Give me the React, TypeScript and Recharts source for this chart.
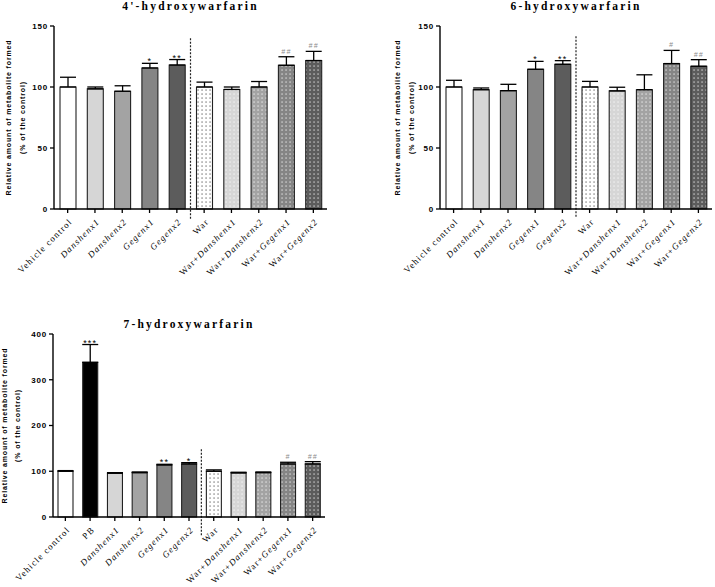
import React from "react";
import { BarChart, Bar, XAxis, YAxis, Cell, ErrorBar, LabelList, ReferenceLine } from "recharts";

// groups on the x axis
const groups = [
  "Vehicle control", "Danshenx1", "Danshenx2", "Gegenx1", "Gegenx2",
  "War", "War+Danshenx1", "War+Danshenx2", "War+Gegenx1", "War+Gegenx2",
];
const groups7 = [
  "Vehicle control", "PB", "Danshenx1", "Danshenx2", "Gegenx1", "Gegenx2",
  "War", "War+Danshenx1", "War+Danshenx2", "War+Gegenx1", "War+Gegenx2",
];

// 4'-hydroxywarfarin (% of control, upper SD)
const mean4 = [100, 98.5, 96.5, 115.6, 118, 100, 98, 100, 117.8, 121.7];
const sd4 = [8, 1.5, 4.5, 3.8, 4.5, 4, 2, 4.5, 7, 7.5];
const sig4 = ["", "", "", "*", "**", "", "", "", "##", "##"];

// 6-hydroxywarfarin
const mean6 = [100, 97.8, 97, 114.5, 118.6, 100, 96.8, 97.8, 119.2, 117];
const sd6 = [5.5, 1.4, 5.2, 6.5, 3, 4.6, 3, 12.2, 10.8, 5.4];
const sig6 = ["", "", "", "*", "**", "", "", "", "#", "##"];

// 7-hydroxywarfarin
const mean7 = [100, 338, 95.7, 97, 113.8, 116, 100, 96.4, 97, 116, 116];
const sd7 = [1.4, 39, 1.3, 1.5, 1.4, 2.8, 3, 1.4, 1.5, 3.6, 5];
const sig7 = ["", "***", "", "", "**", "*", "", "", "", "#", "##"];

const yTicks150 = [0, 50, 100, 150];
const yTicks400 = [0, 100, 200, 300, 400];

const fills: Record<string, string> = {
  "Vehicle control": "#ffffff",
  PB: "#000000",
  Danshenx1: "#d6d6d6",
  Danshenx2: "#a3a3a3",
  Gegenx1: "#858585",
  Gegenx2: "#5c5c5c",
  War: "url(#dotWar)",
  "War+Danshenx1": "url(#dotD1)",
  "War+Danshenx2": "url(#dotD2)",
  "War+Gegenx1": "url(#dotG1)",
  "War+Gegenx2": "url(#dotG2)",
};

const sans = "'Liberation Sans', Arial, sans-serif";
const serif = "'Liberation Serif', 'Times New Roman', serif";

const Patterns = () => {
  const defs = [
    ["dotWar", "#ffffff", "#444444"],
    ["dotD1", "#d6d6d6", "#ffffff"],
    ["dotD2", "#a3a3a3", "#ffffff"],
    ["dotG1", "#858585", "#ffffff"],
    ["dotG2", "#5c5c5c", "#ffffff"],
  ];
  return (
    <svg width={0} height={0} style={{ position: "absolute" }}>
      <defs>
        {defs.map(([id, bg, dot]) => (
          <pattern key={id} id={id} patternUnits="userSpaceOnUse" width={4} height={4}>
            <rect width={4} height={4} fill={bg} />
            <rect x={1.5} y={1.5} width={1.1} height={1.1} fill={dot} />
          </pattern>
        ))}
      </defs>
    </svg>
  );
};

const XTick = (props: any) => {
  const { x, y, payload } = props;
  const parts = String(payload.value).split(/(Danshenx\d|Gegenx\d)/).filter(Boolean);
  return (
    <g transform={`translate(${x + 3},${y + 5})`}>
      <text transform="rotate(-45)" textAnchor="end" dy="0.35em" fontFamily={serif} fontSize={9} letterSpacing={1.2} fill="#000">
        {parts.map((p: string, i: number) => (
          <tspan key={i} fontStyle={/x\d$/.test(p) ? "italic" : "normal"}>{p}</tspan>
        ))}
      </text>
    </g>
  );
};

const YTitle = (props: any) => {
  const { viewBox, offsets } = props;
  const right = viewBox.x + viewBox.width;
  const cy = viewBox.y + viewBox.height / 2;
  const lines = ["Relative amount of metabolite formed", "(% of the control)"];
  return (
    <g>
      {lines.map((t, i) => (
        <text key={i} x={right + offsets[i]} y={cy} transform={`rotate(-90, ${right + offsets[i]}, ${cy})`}
          textAnchor="middle" dominantBaseline="central" fontFamily={sans} fontWeight="bold" fontSize={7} letterSpacing={0.85} fill="#000">
          {t}
        </text>
      ))}
    </g>
  );
};

type PanelProps = {
  title: string; cats: string[]; mean: number[]; sd: number[]; sig: string[];
  domain: number[]; ticks: number[]; left: number; top: number; width: number; height: number;
  marginTop: number; marginRight: number; yAxisW: number; xAxisH: number; barSize: number;
  dash: number[]; offsets: number[]; titleTop: number;
};

const Panel = (p: PanelProps) => {
  const data = p.cats.map((c, i) => ({ name: c, mean: p.mean[i], err: [0, p.sd[i]], sig: p.sig[i] }));
  const plotLeft = p.left + p.yAxisW;
  const plotW = p.width - p.yAxisW - p.marginRight;

  const SigLabel = (lp: any) => {
    const { x, y, width, height, index } = lp;
    const d = data[index];
    if (!d || !d.sig) return null;
    const errTop = y - (d.err[1] / d.mean) * height;
    const hash = d.sig.startsWith("#");
    return (
      <text x={x + width / 2} y={hash ? errTop - 3 : errTop + 1} textAnchor="middle" fontFamily={sans}
        fontSize={hash ? 7 : 9} letterSpacing={1.2} fill={hash ? "#8c8c8c" : "#000"} fontStyle={hash ? "italic" : "normal"}>
        {d.sig}
      </text>
    );
  };

  return (
    <>
      <div style={{ position: "absolute", left: plotLeft, top: p.titleTop, width: plotW, textAlign: "center",
        fontFamily: serif, fontWeight: "bold", fontSize: 11.5, lineHeight: "12px", letterSpacing: 2.2 }}>
        {p.title}
      </div>
      <div style={{ position: "absolute", left: p.left, top: p.top }}>
        <BarChart width={p.width} height={p.height} data={data}
          margin={{ top: p.marginTop, right: p.marginRight, bottom: 0, left: 0 }}>
          <XAxis dataKey="name" interval={0} height={p.xAxisH} tick={<XTick />} tickSize={4}
            axisLine={{ stroke: "#000", strokeWidth: 1.4 }} tickLine={{ stroke: "#000", strokeWidth: 1.3 }} />
          <YAxis domain={p.domain} ticks={p.ticks} width={p.yAxisW} tickSize={4} tickMargin={2}
            axisLine={{ stroke: "#000", strokeWidth: 1.4 }} tickLine={{ stroke: "#000", strokeWidth: 1.3 }}
            tick={{ fontSize: 8, fontWeight: "bold", fill: "#000", fontFamily: sans, letterSpacing: 0.8 }}
            label={<YTitle offsets={p.offsets} />} />
          <ReferenceLine segment={[{ x: "War", y: p.dash[0] }, { x: "War", y: p.dash[1] }]} position="start"
            ifOverflow="visible" stroke="#222" strokeWidth={1.2} strokeDasharray="2 1.5" />
          <Bar dataKey="mean" barSize={p.barSize} stroke="#222" strokeWidth={1.1} isAnimationActive={false}>
            {data.map((d) => (
              <Cell key={d.name} fill={fills[d.name]} />
            ))}
            <ErrorBar dataKey="err" width={8} stroke="#000" strokeWidth={1.3} direction="y" />
            <LabelList dataKey="sig" content={<SigLabel />} />
          </Bar>
        </BarChart>
      </div>
    </>
  );
}

export default function App() {
  return (
    <div style={{ position: "absolute", left: 0, top: 0, width: 715, height: 587, background: "#fff" }}>
      <Patterns />
      <Panel title="4'-hydroxywarfarin" cats={groups} mean={mean4} sd={sd4} sig={sig4}
        domain={[0, 150]} ticks={yTicks150} left={0} top={0} width={340} height={300}
        marginTop={26} marginRight={13} yAxisW={54} xAxisH={91} barSize={16}
        dash={[140, -9]} offsets={[-46, -32]} titleTop={0} />
      <Panel title="6-hydroxywarfarin" cats={groups} mean={mean6} sd={sd6} sig={sig6}
        domain={[0, 150]} ticks={yTicks150} left={360} top={0} width={355} height={300}
        marginTop={26} marginRight={3} yAxisW={80} xAxisH={91} barSize={16}
        dash={[141.5, -7]} offsets={[-43, -29]} titleTop={0} />
      <Panel title="7-hydroxywarfarin" cats={groups7} mean={mean7} sd={sd7} sig={sig7}
        domain={[0, 400]} ticks={yTicks400} left={0} top={300} width={340} height={287}
        marginTop={34} marginRight={15} yAxisW={53} xAxisH={70} barSize={15}
        dash={[148, -40]} offsets={[-49, -36]} titleTop={318} />
    </div>
  );
}
